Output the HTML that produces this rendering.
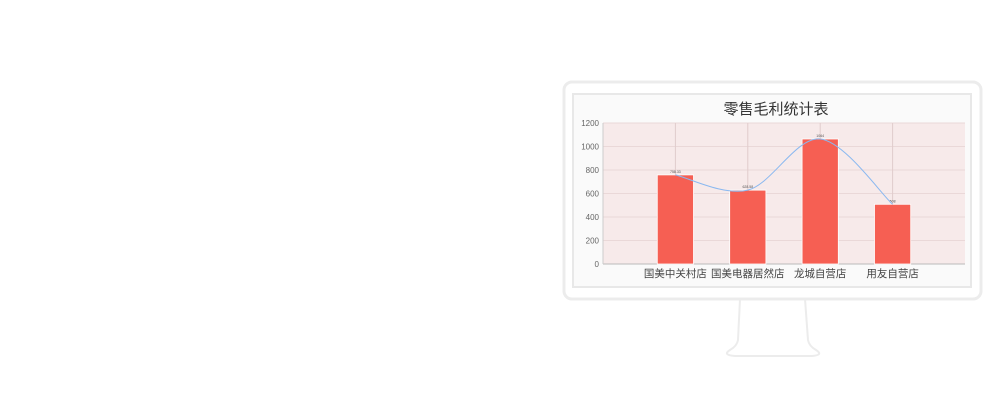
<!DOCTYPE html>
<html><head><meta charset="utf-8"><style>
body{margin:0;width:1000px;height:404px;background:#fff;overflow:hidden;font-family:"Liberation Sans","Noto Sans CJK SC",sans-serif;}
</style></head><body>
<svg width="1000" height="404" style="position:absolute;left:0;top:0">
<path d="M740,299 L738,340 Q737,346 730,350 Q722,355 735,356 L812,356 Q824,355 816,350 Q809,346 808,340 L805,299" fill="#fff" stroke="#ececec" stroke-width="2"/>
<rect x="564" y="82" width="417" height="217" rx="8" fill="#fff" stroke="#ececec" stroke-width="3"/>
<rect x="573" y="94" width="398" height="193" fill="#fafafa" stroke="#e8e8e8" stroke-width="2"/>
<text x="776" y="114" text-anchor="middle" font-size="15" fill="#333" font-family="Liberation Sans, Noto Sans CJK SC, sans-serif">零售毛利统计表</text>
<g id="plot"></g>
</svg>
<script>
const categories=["国美中关村店","国美电器居然店","龙城自营店","用友自营店"];
const values=[758.33,628.58,1064,508];
const valueLabels=["758.33","628.58","1064","508"];
const yTicks=[0,200,400,600,800,1000,1200];
const L=603,R=965,T=123,B=264;
const x=i=>L+(i+1)/5*(R-L);
const y=v=>B-v/1200*(B-T);
const NS="http://www.w3.org/2000/svg";
const g=document.getElementById('plot');
function mk(t,a){const e=document.createElementNS(NS,t);for(const k in a)e.setAttribute(k,a[k]);g.appendChild(e);return e;}
const bg=mk('rect',{x:L,y:T,width:R-L,height:B-T,fill:'#f7eaea'});


yTicks.forEach(v=>{
 const l=mk('line',{x1:L,x2:R,y1:y(v),y2:y(v),stroke:'#ead8d8','stroke-width':1});
 
 
 const t=mk('text',{x:L-4,y:y(v)+3,'text-anchor':'end','font-size':8,fill:'#666'});
 t.textContent=v;
 
 
});
categories.forEach((c,i)=>{
 const l=mk('line',{x1:x(i),x2:x(i),y1:T,y2:B,stroke:'#e0cccc','stroke-width':1});
 
 
});
const ax=mk('line',{x1:L,x2:R,y1:B,y2:B,stroke:'#bbb','stroke-width':1});


const ay=mk('line',{x1:L,x2:L,y1:T,y2:B,stroke:'#ccc','stroke-width':1});


const bw=(R-L)/5*0.5;
values.forEach((v,i)=>{
 const r=mk('rect',{x:x(i)-bw/2,y:y(v),width:bw,height:B-y(v),fill:'#f65f53',stroke:'#fff','stroke-width':0.8});
 
 
 const t=mk('text',{x:x(i),y:y(v)-2,'text-anchor':'middle','font-size':3.5,fill:'#555'});
 t.textContent=valueLabels[i];
 
 
 const c=mk('text',{x:x(i),y:B+13,'text-anchor':'middle','font-size':10.5,fill:'#444'});
 c.textContent=categories[i];
 
 
});
const pts=values.map((v,i)=>[x(i),y(v)]);
let d='M'+pts[0][0]+','+pts[0][1];
for(let i=0;i<pts.length-1;i++){
 const p0=pts[Math.max(0,i-1)],p1=pts[i],p2=pts[i+1],p3=pts[Math.min(pts.length-1,i+2)];
 const c1=[p1[0]+(p2[0]-p0[0])/6,p1[1]+(p2[1]-p0[1])/6];
 const c2=[p2[0]-(p3[0]-p1[0])/6,p2[1]-(p3[1]-p1[1])/6];
 d+=` C${c1[0]},${c1[1]} ${c2[0]},${c2[1]} ${p2[0]},${p2[1]}`;
}
const ln=mk('path',{d:d,fill:'none',stroke:'#8ab8f0','stroke-width':1});


</script>
</body></html>
